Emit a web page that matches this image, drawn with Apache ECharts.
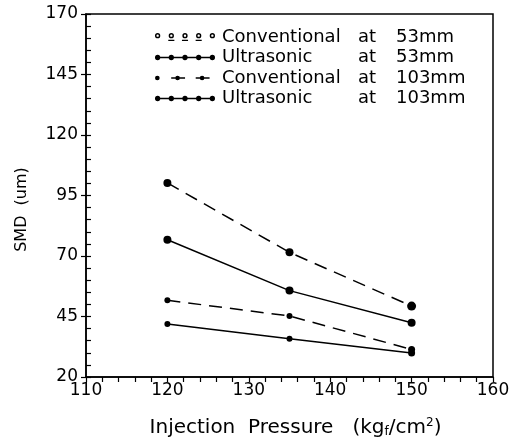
<!DOCTYPE html>
<html><head><meta charset="utf-8">
<script src="https://cdn.jsdelivr.net/npm/echarts@6/dist/echarts.min.js"></script>
<style>html,body{margin:0;padding:0;background:#fff}#c{width:513px;height:443px}</style>
</head><body><div id="c"></div>
<script>
const pressures = [120, 135, 150];
const conv53 = [100.2, 71.5, 49.3];
const ultra53 = [76.7, 55.7, 42.4];
const conv103 = [51.7, 45.2, 31.4];
const ultra103 = [41.9, 35.8, 29.9];
const seriesNames = ['Conventional', 'Ultrasonic', 'Conventional', 'Ultrasonic'];
const positions = ['53mm', '53mm', '103mm', '103mm'];
const xTicks = [110, 120, 130, 140, 150, 160];
const yTicks = [20, 45, 70, 95, 120, 145, 170];

const FONT = 'DejaVu Sans';
function pts(arr){ return pressures.map((p,i)=>[p, arr[i]]); }
const keys = seriesNames.map((n,i)=> n + ' at ' + positions[i]);

// legend icons (60 x 8 box)
function circ(cx, cy, r, cw){ return 'M'+(cx-r)+','+cy+' a'+r+','+r+' 0 1,'+(cw?1:0)+' '+(2*r)+',0 a'+r+','+r+' 0 1,'+(cw?1:0)+' '+(-2*r)+',0 '; }
function ring(cx, cy, r){ return circ(cx,cy,r,1) + circ(cx,cy,r*0.45,0); }
const xs = [3, 16.5, 30, 43.5, 57];
const iconSolid = 'path://' + xs.map(x=>circ(x,4,2.6,1)).join('') + 'M3,3.3 L57,3.3 L57,4.7 L3,4.7 Z';
const iconOpen = 'path://' + xs.map(x=>ring(x,2.8,2.6)).join('') + 'M13.5,6.8 L19.5,6.8 L19.5,8 L13.5,8 Z M27,6.8 L33,6.8 L33,8 L27,8 Z M40.5,6.8 L46.5,6.8 L46.5,8 L40.5,8 Z';
const iconDash = 'path://' + circ(3,4,2.2,1) + circ(22,4,2.2,1) + circ(45,4,2.2,1) + 'M16,3.3 L29,3.3 L29,4.7 L16,4.7 Z M39,3.3 L52,3.3 L52,4.7 L39,4.7 Z' + circ(57,4,0.1,1);
const icons = [iconOpen, iconSolid, iconDash, iconSolid];

const vals = [conv53, ultra53, conv103, ultra103];
const dashes = ['dashed', 'solid', 'dashed', 'solid'];
const sizes = [[8,8,9],[8,8,8],[6,6,7],[6,6,7]];

const chart = echarts.init(document.getElementById('c'), null, {renderer:'canvas'});
chart.setOption({
  animation: false,
  backgroundColor: '#fff',
  textStyle: {fontFamily: FONT, color: '#000'},
  grid: {left: 86, right: 20, top: 14, bottom: 66, show: true, borderColor: '#000', borderWidth: 1.5, backgroundColor: 'transparent'},
  legend: {
    left: 150, top: 23, orient: 'vertical', itemWidth: 60, itemHeight: 8, itemGap: 2.5,
    data: keys.map((k,i)=>({name:k, icon: icons[i]})),
    formatter: function(name){ const i = keys.indexOf(name); return '{a|'+seriesNames[i]+'}{b|at}{c|'+positions[i]+'}'; },
    textStyle: {fontFamily: FONT, fontSize: 18, color:'#000', padding:[0,0,0,2],
      rich: {a:{width:136, fontSize:18, fontFamily: FONT}, b:{width:38, fontSize:18, fontFamily: FONT}, c:{fontSize:18, fontFamily: FONT}}},
    itemStyle: {color:'#000'}
  },
  xAxis: [{
    type: 'value', min: 110, max: 160, interval: 10,
    name: '{n|Injection  Pressure   (kg}{s|f}{n|/cm}{p|2}{n|)}', nameLocation: 'middle', nameGap: 40,
    nameTextStyle: {padding: [0, 0, 0, 12], rich: {n:{fontSize:20, fontFamily: FONT, color:'#000'}, s:{fontSize:12, fontFamily: FONT, color:'#000', verticalAlign:'bottom', padding:[9,0,0,0]}, p:{fontSize:12, fontFamily: FONT, color:'#000', verticalAlign:'top', padding:[0,0,9,0]}}},
    axisLine: {show: true, lineStyle: {color:'#000', width: 1.5}},
    axisTick: {show: true, inside: false, length: 5, lineStyle: {color:'#000', width: 1.2}},
    minorTick: {show: true, splitNumber: 5, length: 5, lineStyle: {color:'#000', width: 1.2}},
    splitLine: {show: false},
    axisLabel: {fontSize: 17, fontFamily: FONT, color: '#000', margin: 5, formatter: v => xTicks.includes(v) ? String(v) : ''}
  }],
  yAxis: [{
    type: 'value', min: 20, max: 170, interval: 25,
    name: 'SMD  (um)', nameLocation: 'middle', nameGap: 56,
    nameTextStyle: {fontSize: 16, fontFamily: FONT, color: '#000', padding: [0, 28, 0, 0]},
    axisLine: {show: true, lineStyle: {color:'#000', width: 1.5}},
    axisTick: {show: true, inside: true, length: 5, lineStyle: {color:'#000', width: 1.2}},
    minorTick: {show: true, splitNumber: 5, length: 5, lineStyle: {color:'#000', width: 1.2}},
    splitLine: {show: false},
    axisLabel: {fontSize: 17, fontFamily: FONT, color: '#000', margin: 8, formatter: v => yTicks.includes(v) ? String(v) : ''}
  }, {
    type: 'value', min: 20, max: 170, interval: 25, position: 'left',
    axisLine: {show: false}, axisLabel: {show: false}, splitLine: {show: false},
    axisTick: {show: true, inside: false, length: 5, lineStyle: {color:'#000', width: 1.2}}
  }],
  series: vals.map((v,i)=>({
    name: keys[i], type: 'line', data: pts(v), xAxisIndex: 0, yAxisIndex: 0,
    symbol: 'circle', symbolSize: (val, p) => sizes[i][p.dataIndex],
    lineStyle: {color:'#000', width: 1.5, type: dashes[i] === 'dashed' ? [13, 8] : 'solid'},
    itemStyle: {color:'#000'},
    z: 3
  }))
});
</script></body></html>
